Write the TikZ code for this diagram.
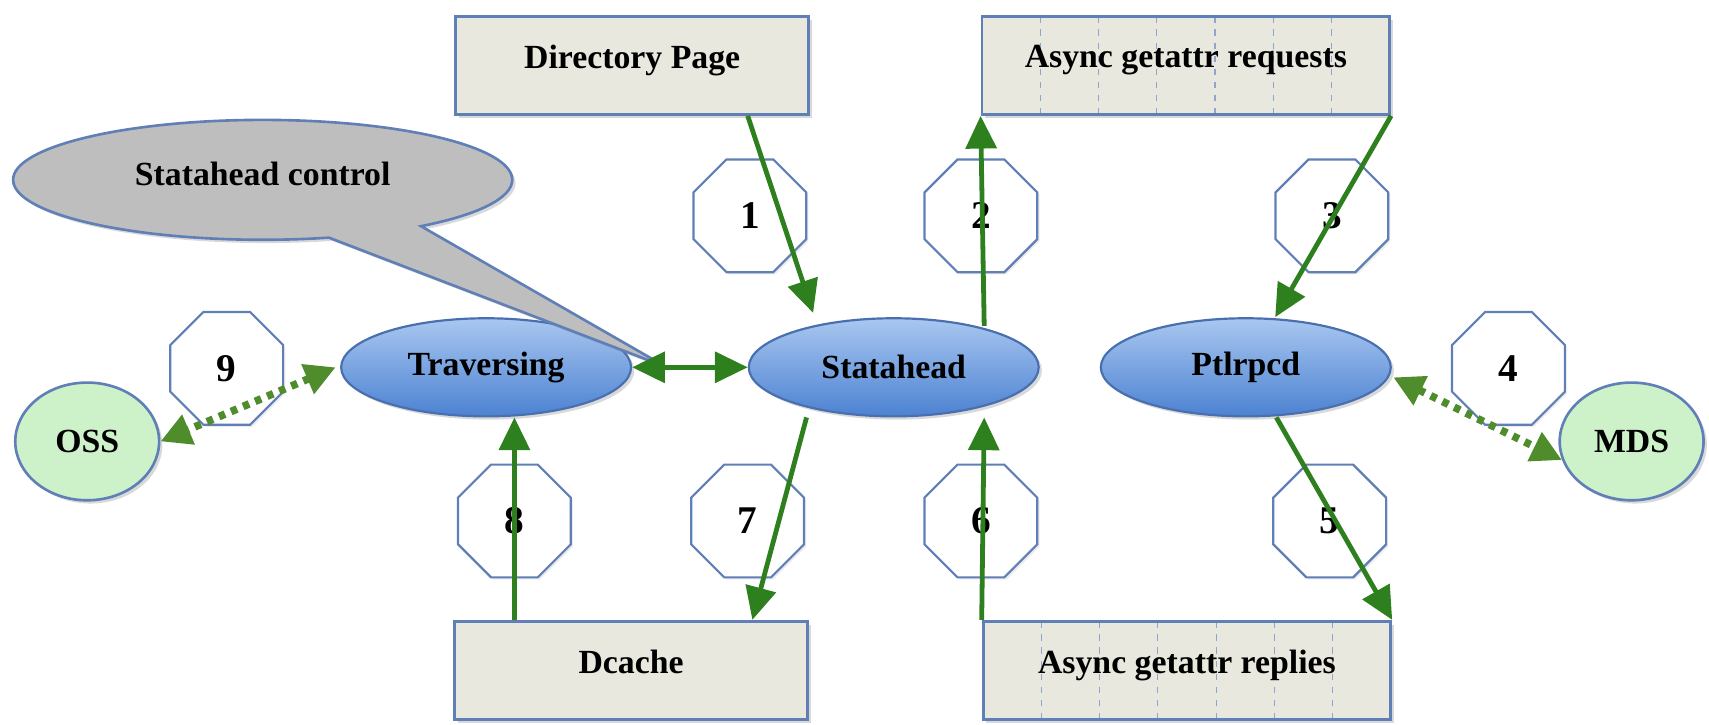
\documentclass[tikz,border=0pt]{standalone}
\usepackage{fontspec}
\setmainfont{Liberation Serif}
\usetikzlibrary{positioning,arrows.meta,shapes.geometric,shapes.callouts,shadows,calc}

\definecolor{edgeblue}{HTML}{5F7FB6}
\definecolor{boxfill}{HTML}{E8E8DF}
\definecolor{proctop}{HTML}{A9C7F0}
\definecolor{procbot}{HTML}{4C82D2}
\definecolor{procedge}{HTML}{4A6FAE}
\definecolor{srvfill}{HTML}{CDF2C9}
\definecolor{ctrlfill}{HTML}{BEBEBE}
\definecolor{flowgreen}{HTML}{2E7F1E}
\definecolor{dotgreen}{HTML}{4E8C2C}

\begin{document}
\begin{tikzpicture}[x=0.5pt, y=-0.5pt, font=\bfseries\fontsize{15.5}{18}\selectfont,
  shade/.style={drop shadow={opacity=0.3, shadow xshift=1.5pt, shadow yshift=-1.5pt}},
  box/.style={draw=edgeblue, line width=1.3pt, fill=boxfill, inner sep=0, text depth=8pt, minimum width=162pt, minimum height=45pt, shade},
  queue/.style={box, minimum width=187pt, path picture={
      \foreach \i in {1,...,6}
        \draw[edgeblue!70, line width=0.5pt, dash pattern=on 3pt off 3pt]
          ($(path picture bounding box.south west)!\i/7!(path picture bounding box.south east)$) --
          ($(path picture bounding box.north west)!\i/7!(path picture bounding box.north east)$);}},
  proc/.style={ellipse, draw=procedge, line width=1pt, top color=proctop, bottom color=procbot, inner sep=0, minimum width=133pt, minimum height=45pt, shade},
  server/.style={ellipse, draw=edgeblue, line width=1.2pt, fill=srvfill, inner sep=0, minimum width=66pt, minimum height=54pt, shade},
  stepno/.style={regular polygon, regular polygon sides=8, draw=edgeblue, line width=1pt, fill=white, inner sep=0, minimum size=56pt, font=\bfseries\fontsize{18}{20}\selectfont, drop shadow={opacity=0.15, shadow xshift=1pt, shadow yshift=-1pt}},
  flow/.style={-{Triangle[width=14pt, length=15pt]}, line width=2.2pt, flowgreen},
  dotflow/.style={{Triangle[width=14pt, length=14pt]}-{Triangle[width=14pt, length=14pt]}, line width=3.5pt, dotgreen, dash pattern=on 3pt off 3pt}]
\useasboundingbox (0,0) rectangle (1568,665);

% buffers and queues
\node[box] (dirpage) at (580,60) {Directory Page};
\node[queue] (reqs) at (1088,60) {Async getattr requests};
\node[box] (dcache) at (579,615) {Dcache};
\node[queue] (replies) at (1089,615) {Async getattr replies};

% threads
\node[proc] (traversing) at (446,337) {Traversing};
\node[proc] (statahead) at (820,337) {Statahead};
\node[proc] (ptlrpcd) at (1143,337) {Ptlrpcd};

% servers
\node[server] (oss) at (80,405) {OSS};
\node[server] (mds) at (1497,405) {MDS};

% control callout
\coordinate (ctrlptr) at ($(traversing.east)!0.3!(statahead.west)$);
\node[ellipse callout, callout absolute pointer={(ctrlptr)}, callout pointer arc=24, draw=edgeblue, line width=1.2pt, fill=ctrlfill, minimum width=229pt, minimum height=55pt, text depth=6pt, shade] (ctrl) at (241,165) {Statahead control};

% step numbers
\node[stepno] (s1) at (688,198) {1};
\node[stepno] (s2) at (900,198) {2};
\node[stepno] (s3) at (1222,198) {3};
\node[stepno] (s4) at (1384,338) {4};
\node[stepno] (s5) at (1220,478) {5};
\node[stepno] (s6) at (900,478) {6};
\node[stepno] (s7) at (686,478) {7};
\node[stepno] (s8) at (472,478) {8};
\node[stepno] (s9) at (208,338) {9};

% flows
\draw[flow] ([xshift=53pt]dirpage.south) -- ([xshift=-37pt, yshift=2pt]statahead.north);
\draw[flow] ([xshift=41.5pt, yshift=-4pt]statahead.north) -- (reqs.south west);
\draw[flow] (reqs.south east) -- ([xshift=13.5pt]ptlrpcd.north);
\draw[dotflow] ([xshift=2pt]ptlrpcd.-4) -- (mds.195);
\draw[flow] ([xshift=14pt]ptlrpcd.south) -- (replies.north east);
\draw[flow] (replies.north west) -- ([xshift=41.5pt]statahead.south);
\draw[flow] ([xshift=-40pt]statahead.south) -- ([xshift=-26pt]dcache.north east);
\draw[flow] ([xshift=-53.5pt]dcache.north) -- ([xshift=13pt]traversing.south);
\draw[dotflow] ([xshift=-2pt]traversing.west) -- (oss.east);
\draw[flow, {Triangle[width=14pt, length=15pt]}-{Triangle[width=14pt, length=15pt]}] (traversing.east) -- (statahead.west);
\end{tikzpicture}
\end{document}
